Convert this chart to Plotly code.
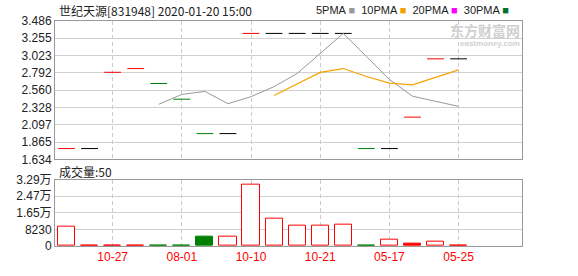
import plotly.graph_objects as go

# ---------------- data ----------------
idx = list(range(18))
close = [1.78, 1.78, 2.80, 2.85, 2.65, 2.44, 1.98, 1.98, 3.32, 3.32,
         3.32, 3.32, 3.32, 1.78, 1.78, 2.20, 2.98, 2.98]
candle_color = ["#ff0000", "#000000", "#ff0000", "#ff0000", "#008000", "#008000",
                "#008000", "#000000", "#ff0000", "#000000", "#000000", "#000000",
                "#000000", "#008000", "#000000", "#ff0000", "#ff0000", "#000000"]
ma5 = [None, None, None, None, 2.372, 2.504, 2.544, 2.380, 2.474, 2.608,
       2.784, 3.052, 3.320, 3.012, 2.704, 2.480, 2.412, 2.344]
ma10 = [None] * 9 + [2.490, 2.644, 2.798, 2.850, 2.743, 2.656, 2.632, 2.732, 2.832]
volume = [9400, 150, 150, 150, 150, 150, 4800, 4600, 30400, 13700,
          9900, 9900, 10400, 150, 3200, 1000, 2400, 150]
vol_color = ["#ff0000", "#ff0000", "#ff0000", "#ff0000", "#008000", "#008000",
             "#008000", "#ff0000", "#ff0000", "#ff0000", "#ff0000", "#ff0000",
             "#ff0000", "#008000", "#ff0000", "#ff0000", "#ff0000", "#ff0000"]
vol_filled = [False, False, False, False, True, True, True, False, False, False,
              False, False, False, True, False, True, False, False]
x_tickvals = [2, 5, 8, 11, 14, 17]
x_ticktext = ["10-27", "08-01", "10-10", "10-21", "05-17", "05-25"]
price_ticks = [1.634, 1.865, 2.097, 2.328, 2.560, 2.792, 3.023, 3.255, 3.486]
vol_tickvals = [0, 8230, 16460, 24690, 32920]
vol_ticktext = ["0", "8230", "1.65万", "2.47万", "3.29万"]
title_text = "世纪天源[831948] 2020-01-20 15:00"

# ---------------- figure ----------------
fig = go.Figure()

fig.add_trace(go.Scatter(
    x=idx, y=close, mode="markers", xaxis="x", yaxis="y",
    marker=dict(symbol="line-ew", size=12, color=candle_color,
                line=dict(color=candle_color, width=1)),
    hoverinfo="skip", showlegend=False))

fig.add_trace(go.Scatter(
    x=idx, y=ma5, mode="lines", xaxis="x", yaxis="y",
    line=dict(color="#999999", width=1), hoverinfo="skip", showlegend=False))
fig.add_trace(go.Scatter(
    x=idx, y=ma10, mode="lines", xaxis="x", yaxis="y",
    line=dict(color="#f5a300", width=1.2), hoverinfo="skip", showlegend=False))

fig.add_trace(go.Bar(
    x=idx, y=volume, xaxis="x2", yaxis="y2", width=0.74,
    marker=dict(color=[c if f else "#ffffff" for c, f in zip(vol_color, vol_filled)],
                line=dict(color=vol_color, width=1)),
    hoverinfo="skip", showlegend=False))

axis_font = dict(family="Liberation Sans, Arial, Noto Sans CJK SC", size=12, color="#222222")
grid_dash = "4px,3px"
xr = [-0.5, 19.75]

fig.update_layout(
    width=578, height=276,
    margin=dict(l=55, r=56, t=21, b=21),
    paper_bgcolor="#ffffff", plot_bgcolor="#ffffff",
    bargap=0,
    xaxis=dict(domain=[0, 1], anchor="y", range=xr, tickvals=x_tickvals,
               showticklabels=False, showgrid=True, gridcolor="#cccccc",
               griddash=grid_dash, showline=True, mirror=True, linecolor="#999999",
               zeroline=False, ticks=""),
    yaxis=dict(domain=[0.3846, 1], anchor="x", range=[1.634, 3.486],
               tickvals=price_ticks, ticktext=[f"{v:.3f}" for v in price_ticks],
               tickfont=axis_font, showgrid=True, gridcolor="#d0d0d0",
               showline=True, mirror=True, linecolor="#999999", zeroline=False, ticks=""),
    xaxis2=dict(domain=[0, 1], anchor="y2", range=xr, tickvals=x_tickvals,
                ticktext=x_ticktext,
                tickfont=dict(family="Liberation Sans, Arial", size=12, color="#ff0000"),
                showgrid=True, gridcolor="#cccccc", griddash=grid_dash,
                showline=True, mirror=True, linecolor="#999999", zeroline=False, ticks=""),
    yaxis2=dict(domain=[0, 0.2949], anchor="x2", range=[0, 32920],
                tickvals=vol_tickvals, ticktext=vol_ticktext, tickfont=axis_font,
                showgrid=True, gridcolor="#d0d0d0", showline=True, mirror=True,
                linecolor="#999999", zeroline=False, ticks=""),
    annotations=[
        dict(text=title_text, xref="paper", yref="paper", x=0, y=1.047,
             xanchor="left", yanchor="middle", xshift=2, showarrow=False,
             font=dict(family="Noto Sans CJK SC", size=12, color="#222222")),
        dict(text=("5PMA <span style='color:#999999'>■</span>  "
                   "10PMA <span style='color:#f0a000'>■</span>  "
                   "20PMA <span style='color:#ff00ff'>■</span>  "
                   "30PMA <span style='color:#006f30'>■</span>"),
             xref="paper", yref="paper", x=0.976, y=1.051, xanchor="right",
             yanchor="middle", showarrow=False,
             font=dict(family="Liberation Sans, Arial", size=11, color="#222222")),
        dict(text="<b>东方财富网</b>", xref="paper", yref="paper",
             x=1, y=(255 - 30) / 234, xanchor="right", yanchor="middle",
             showarrow=False,
             font=dict(family="Noto Sans CJK SC", size=14, color="#d0d0d0")),
        dict(text="<b>eastmoney.com</b>", xref="paper", yref="paper",
             x=1, y=(255 - 44.5) / 234, xanchor="right", yanchor="middle",
             showarrow=False,
             font=dict(family="Liberation Sans, Arial", size=8, color="#d0d0d0")),
        dict(text="成交量:50", xref="paper", yref="paper", x=0, y=0.3333,
             xanchor="left", yanchor="middle", xshift=2, showarrow=False,
             font=dict(family="Noto Sans CJK SC", size=12, color="#222222")),
    ],
)

fig.write_html("out.html", config={"displayModeBar": False})
